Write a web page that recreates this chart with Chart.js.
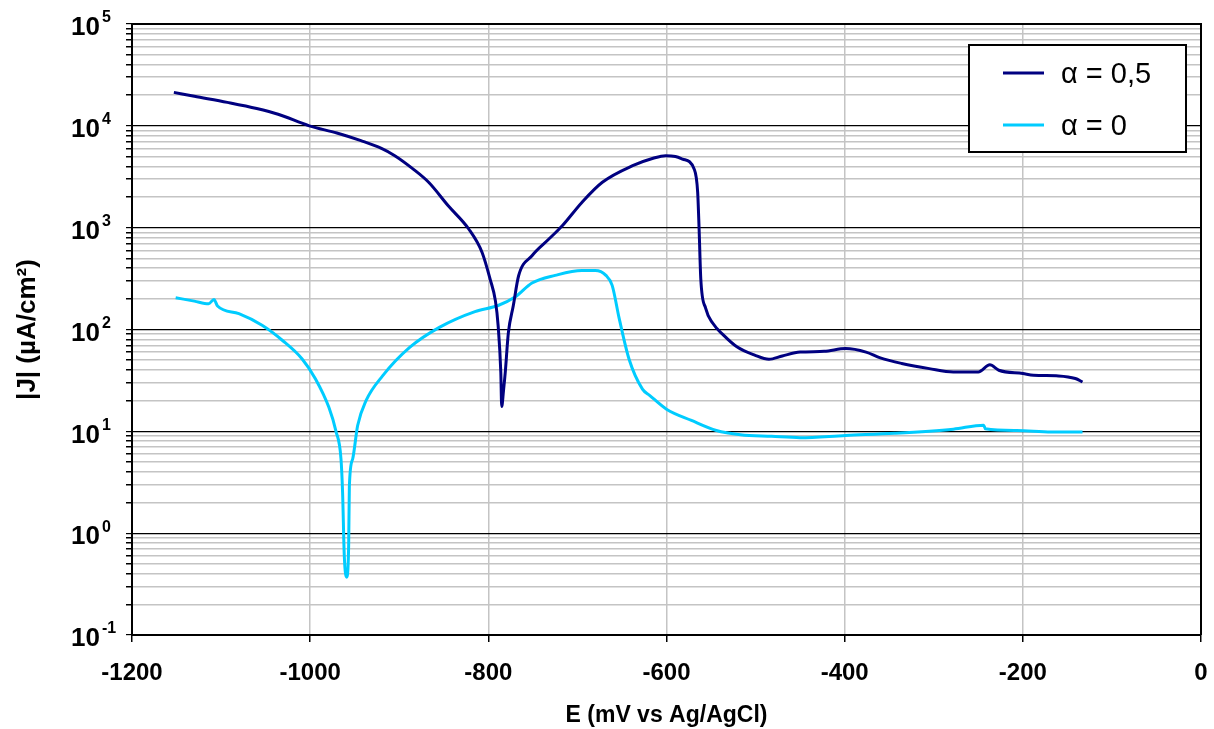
<!DOCTYPE html>
<html>
<head>
<meta charset="utf-8">
<script src="https://cdn.jsdelivr.net/npm/chart.js@4.4.1/dist/chart.umd.min.js"></script>
<style>
html,body{margin:0;padding:0;background:#fff;}
#wrap{width:1214px;height:729px;position:relative;}
</style>
</head>
<body>
<div id="wrap"><canvas id="c"></canvas></div>
<script>
// ---- data ----
const seriesLabels = ['\u03B1 = 0,5', '\u03B1 = 0'];
const seriesColors = ['#000080', '#00CCFF'];

const eHalf = [-1153,-1130,-1093,-1060,-1036,-1001,-970,-943,-920,-905,-885,-867,-845,-822,-807,-798,-792,-789,-786,-785,-783,-781,-777.5,-772,-766,-751,-732,-717,-695,-672,-638,-615,-601,-590,-582,-569,-565,-563.4,-561.5,-556,-548,-536,-521,-501,-485,-470,-450,-423,-399,-376,-360,-336,-305,-278,-250,-237,-227,-200,-188,-160,-141,-133];
const jHalf = [21300,19500,17000,14800,13000,10000,8500,7150,6000,5090,3800,2790,1640,970,571,313,190,109,38,17.5,25,38,93,171,337,530,773,1045,1770,2790,4060,4800,5090,5000,4720,3770,2220,970,313,161,115,88,67.6,56,51,55,60,61,65,60,52.6,46.4,41.3,38.3,38.3,45,39.8,36.9,35.5,35,33,30.5];

const eZero = [-1151,-1130,-1114,-1108,-1104,-1080,-1054,-1031,-1009,-994,-979,-971,-965.4,-963.6,-961.7,-959,-956.8,-956,-952.3,-946.7,-937.3,-918.5,-888,-855,-815,-789,-770,-751,-725,-695,-680,-668,-661,-653,-642,-627,-619,-600,-572,-544,-517,-482,-450,-399,-344,-278,-244,-242,-207,-168,-133];
const jZero = [205,190,179,197,170,143,110,78,51.4,32.7,17.2,10,5.35,2.5,0.6,0.37,0.75,2.9,5.35,11.4,20,35.2,67,105,150,172,208,286,340,380,380,340,271,127,51,26,22.6,16.5,12.8,10.2,9.27,8.93,8.66,9.12,9.55,10.5,11.5,10.6,10.2,9.85,9.85];

const xTicks = [-1200,-1000,-800,-600,-400,-200,0];
const yDecades = [-1,0,1,2,3,4,5];
const yTickBase = '10';
const yTickExponents = ['-1','0','1','2','3','4','5'];

const xTitle = 'E (mV vs Ag/AgCl)';
const yTitle = '|J| (\u00B5A/cm\u00B2)';

// ---- build ----
function pts(xs, ys){ return xs.map((x,i)=>({x:x, y:ys[i]})); }
function isDecade(v){ const l=Math.log10(v); return Math.abs(l-Math.round(l))<1e-9; }

const FONT = "'Liberation Sans', Arial, sans-serif";

const framePlugin = {
  id:'frame',
  beforeDatasetsDraw(chart){
    const {ctx, chartArea:a} = chart;
    ctx.save();
    ctx.strokeStyle='#000';
    ctx.lineWidth=2;
    ctx.beginPath();
    ctx.moveTo(a.left, a.top); ctx.lineTo(a.right, a.top); ctx.lineTo(a.right, a.bottom);
    ctx.stroke();
    ctx.restore();
  },
  afterDraw(chart){
    const {ctx} = chart;
    // y tick labels with superscript exponents
    const ys = chart.scales.y;
    ctx.save();
    ctx.fillStyle='#000';
    ctx.textBaseline='middle';
    yDecades.forEach((d,i)=>{
      const py = ys.getPixelForValue(Math.pow(10,d));
      ctx.font = "bold 26px " + FONT;
      ctx.textAlign='right';
      ctx.fillText(yTickBase, 100, py+4);
      ctx.font = "bold 16px " + FONT;
      ctx.textAlign='left';
      ctx.fillText(yTickExponents[i], 102, py-6);
    });
    // legend
    const bx=969, by=45, bw=217, bh=107;
    ctx.fillStyle='#fff';
    ctx.fillRect(bx,by,bw,bh);
    ctx.strokeStyle='#000';
    ctx.lineWidth=2;
    ctx.strokeRect(bx,by,bw,bh);
    chart.data.datasets.forEach((ds,i)=>{
      const y = 73 + i*52;
      ctx.strokeStyle = ds.borderColor;
      ctx.lineWidth = 3;
      ctx.beginPath(); ctx.moveTo(1003,y); ctx.lineTo(1044,y); ctx.stroke();
      ctx.fillStyle='#000';
      ctx.font = "29px " + FONT;
      ctx.textBaseline='middle';
      ctx.textAlign='left';
      ctx.fillText(ds.label, 1061, y+2);
    });
    ctx.restore();
  }
};

new Chart(document.getElementById('c'), {
  type:'line',
  data:{
    datasets:[
      {label:seriesLabels[0], data:pts(eHalf,jHalf), borderColor:seriesColors[0], backgroundColor:seriesColors[0], borderWidth:3, pointRadius:0, cubicInterpolationMode:'monotone', fill:false},
      {label:seriesLabels[1], data:pts(eZero,jZero), borderColor:seriesColors[1], backgroundColor:seriesColors[1], borderWidth:3, pointRadius:0, cubicInterpolationMode:'monotone', fill:false}
    ]
  },
  options:{
    responsive:true,
    maintainAspectRatio:false,
    animation:false,
    layout:{padding:{left:0, top:24, right:13, bottom:0}},
    plugins:{legend:{display:false}, tooltip:{enabled:false}},
    scales:{
      x:{
        type:'linear', min:-1200, max:0,
        afterBuildTicks(scale){ scale.ticks = xTicks.map(v=>({value:v})); },
        afterFit(scale){ scale.height = 94; scale.paddingRight = 0; scale.paddingLeft = 0; },
        ticks:{ callback:(v)=>String(v), color:'#000', font:{family:FONT, size:24, weight:'bold'}, padding:17, maxRotation:0, autoSkip:false },
        grid:{ color:'#c4c4c4', lineWidth:1.5, tickLength:7, tickColor:'#000' },
        border:{ color:'#000', width:2 },
        title:{ display:true, text:xTitle, color:'#000', font:{family:FONT, size:23, weight:'bold'}, padding:{top:0,bottom:0} }
      },
      y:{
        type:'logarithmic', min:0.1, max:100000,
        afterBuildTicks(scale){
          const t=[];
          yDecades.forEach(d=>{
            if(d===5){ t.push({value:1e5}); return; }
            for(let m=1;m<=9;m++){ t.push({value:parseFloat((m*Math.pow(10,d)).toPrecision(6))}); }
          });
          scale.ticks=t;
        },
        afterFit(scale){ scale.width = 132; scale.paddingTop = 0; scale.paddingBottom = 0; },
        ticks:{ display:false, autoSkip:false },
        grid:{
          color:(c)=> (c.tick && isDecade(c.tick.value)) ? '#000' : '#c4c4c4',
          lineWidth:(c)=> (c.tick && isDecade(c.tick.value)) ? 1.2 : 1.5,
          tickLength:6, tickColor:'#000'
        },
        border:{ color:'#000', width:2 },
        title:{ display:true, text:yTitle, color:'#000', font:{family:FONT, size:26, weight:'bold'}, padding:{top:12,bottom:0} }
      }
    }
  },
  plugins:[framePlugin]
});
</script>
</body>
</html>
